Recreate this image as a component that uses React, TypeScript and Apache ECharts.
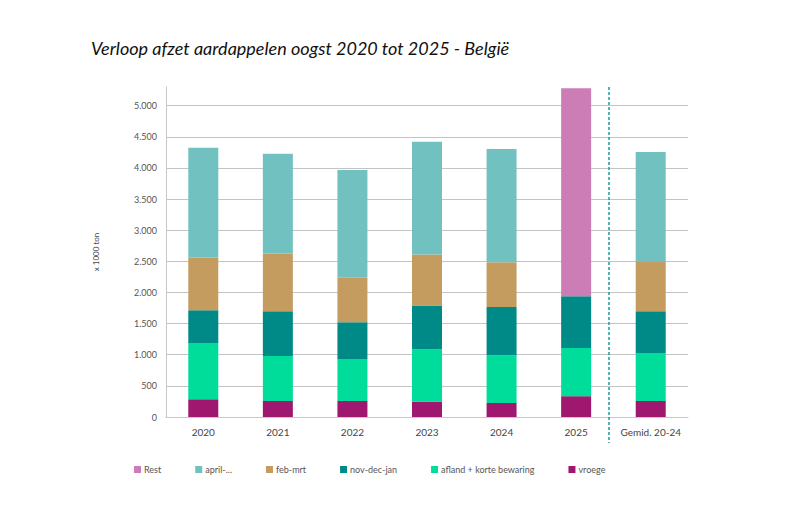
import React, { useEffect, useRef } from 'react';
import * as echarts from 'echarts';

// oogstjaren + gemiddelde
const categories = ['2020', '2021', '2022', '2023', '2024', '2025', 'Gemid. 20-24'];

// x 1000 ton, per afzetperiode (onderaan gestapeld eerst)
const vroege = [285, 257, 257, 248, 225, 334, 257];
const afland = [895, 724, 666, 840, 767, 775, 772];
const novDecJan = [535, 719, 600, 703, 776, 831, 669];
const febMrt = [848, 927, 712, 820, 719, null, 805];
const april = [1762, 1601, 1731, 1810, 1817, null, 1753];
const rest = [null, null, null, null, null, 3340, null];

const legendOrder = ['Rest', 'april-...', 'feb-mrt', 'nov-dec-jan', 'afland + korte bewaring', 'vroege'];

const fmt = (v: number) => String(v).replace(/\B(?=(\d{3})+(?!\d))/g, '.');

const App: React.FC = () => {
    const chartRef: any = useRef();

    useEffect(() => {
        const chart = echarts.init(chartRef.current, null, { renderer: 'svg' });
        const bar = (name: string, data: (number | null)[], color: string) => ({
            name,
            type: 'bar',
            stack: 'afzet',
            data,
            barWidth: 30,
            itemStyle: { color },
        });
        const option = {
            animation: false,
            textStyle: { fontFamily: 'Lato' },
            title: {
                text: 'Verloop afzet aardappelen oogst 2020 tot 2025 - België',
                left: 86,
                top: 34,
                textStyle: { fontFamily: 'Lato', fontStyle: 'italic', fontWeight: 'normal', fontSize: 18, color: '#111' },
            },
            legend: {
                data: legendOrder,
                left: 129,
                top: 460,
                itemWidth: 7,
                itemHeight: 7,
                itemGap: 34,
                icon: 'rect',
                textStyle: { fontSize: 9, color: '#555', padding: [0, 0, 0, -2] },
            },
            grid: { left: 166, right: 112, top: 87, bottom: 96 },
            xAxis: {
                type: 'category',
                data: categories,
                axisLine: { lineStyle: { color: '#c8c8c8' } },
                axisTick: { show: false },
                axisLabel: { interval: 0, fontSize: 10, color: '#444', margin: 10 },
            },
            yAxis: {
                type: 'value',
                name: 'x 1000 ton',
                nameLocation: 'middle',
                nameGap: 66,
                nameTextStyle: { fontSize: 8, color: '#444' },
                min: 0,
                max: 5300,
                interval: 500,
                axisLine: { show: true, lineStyle: { color: '#c8c8c8' } },
                axisTick: { show: false },
                axisLabel: { fontSize: 9, color: '#555', margin: 9, showMaxLabel: false, formatter: (v: number) => fmt(v) },
                splitLine: { showMaxLine: false, lineStyle: { color: '#c4c4c4' } },
            },
            series: [
                bar('vroege', vroege, '#a0176f'),
                bar('afland + korte bewaring', afland, '#00dc9a'),
                bar('nov-dec-jan', novDecJan, '#008a87'),
                bar('feb-mrt', febMrt, '#c49c60'),
                bar('april-...', april, '#70c1c0'),
                bar('Rest', rest, '#cd7db5'),
            ],
            graphic: [
                {
                    type: 'line',
                    shape: { x1: 609, y1: 87, x2: 609, y2: 443 },
                    style: { stroke: '#1c9ba3', lineWidth: 1.5, lineDash: [3, 2] },
                    z: 10,
                },
            ],
        };
        chart.setOption(option);
        return () => {
            chart.dispose();
        };
    }, []);

    return <div ref={chartRef} style={{ width: 800, height: 513, margin: -8 }}></div>;
};

export default App;
